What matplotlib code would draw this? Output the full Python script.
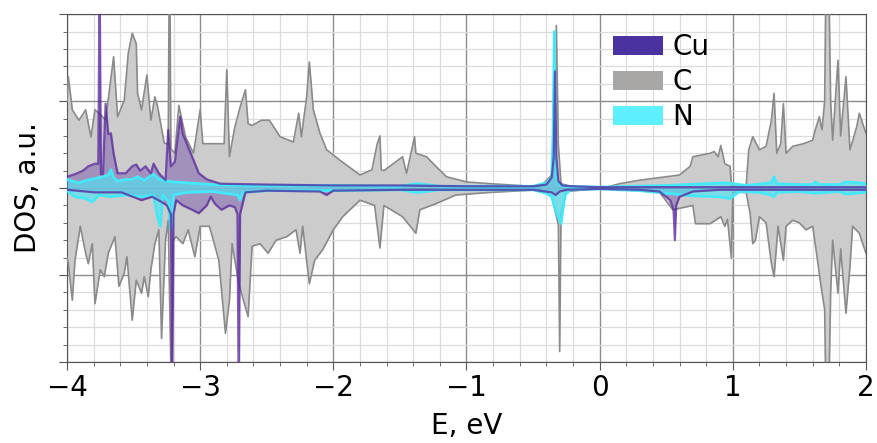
import matplotlib
matplotlib.use('Agg')
import matplotlib.pyplot as plt
from matplotlib.patches import Patch
from matplotlib.ticker import MultipleLocator

# C, spin up
e_c_up = [-4.00, -3.99, -3.96, -3.91, -3.86, -3.82, -3.79, -3.75, -3.71, -3.65,
          -3.62, -3.57, -3.54, -3.51, -3.48, -3.47, -3.44, -3.40, -3.37, -3.34,
          -3.32, -3.27, -3.24, -3.232, -3.228, -3.22, -3.19, -3.16, -3.11, -3.05,
          -3.00, -2.98, -2.82, -2.80, -2.78, -2.74, -2.70, -2.66, -2.64, -2.61,
          -2.54, -2.48, -2.40, -2.30, -2.26, -2.24, -2.20, -2.18, -2.15, -2.10,
          -2.05, -1.95, -1.80, -1.71, -1.67, -1.65, -1.64, -1.62, -1.48, -1.45,
          -1.39, -1.38, -1.30, -1.23, -1.15, -1.00, -0.82, -0.45, -0.41, -0.36,
          -0.34, -0.325, -0.31, -0.29, -0.20, 0.00, 0.05, 0.15, 0.30, 0.45,
          0.60, 0.68, 0.70, 0.83, 0.86, 0.89, 0.91, 0.94, 0.98, 0.99,
          1.10, 1.12, 1.15, 1.20, 1.25, 1.29, 1.31, 1.33, 1.36, 1.38,
          1.40, 1.45, 1.53, 1.60, 1.62, 1.65, 1.67, 1.69, 1.70, 1.72,
          1.735, 1.75, 1.79, 1.81, 1.85, 1.88, 1.93, 1.95, 2.00]
c_up = [1.00, 1.28, 0.90, 0.78, 0.90, 0.59, 0.90, 0.85, 0.78, 1.51,
        0.82, 1.01, 1.55, 1.78, 1.66, 1.09, 0.90, 1.30, 0.78, 1.05,
        0.94, 0.52, 0.50, 2.5, 2.5, 0.45, 0.40, 0.95, 0.59, 0.40,
        0.90, 0.51, 0.51, 1.36, 0.36, 0.70, 0.93, 1.13, 0.74, 0.72,
        0.78, 0.78, 0.59, 0.53, 0.86, 0.59, 1.05, 1.45, 0.90, 0.63,
        0.44, 0.32, 0.15, 0.21, 0.51, 0.60, 0.21, 0.20, 0.36, 0.17,
        0.59, 0.40, 0.36, 0.25, 0.13, 0.07, 0.05, 0.015, 0.07, 0.15,
        0.80, 1.87, 0.50, 0.05, 0.01, 0.00, 0.01, 0.05, 0.09, 0.12,
        0.15, 0.25, 0.36, 0.40, 0.42, 0.36, 0.49, 0.28, 0.25, 0.02,
        0.02, 0.44, 0.59, 0.44, 0.48, 0.78, 1.09, 0.40, 0.51, 0.97,
        0.40, 0.48, 0.51, 0.55, 0.67, 0.82, 0.67, 1.00, 2.5, 2.5,
        1.00, 0.55, 1.47, 0.60, 1.28, 0.44, 0.70, 0.86, 0.63]

# C, spin down
e_c_dn = [-4.00, -3.99, -3.96, -3.94, -3.90, -3.86, -3.84, -3.81, -3.79, -3.75,
          -3.72, -3.69, -3.64, -3.61, -3.57, -3.55, -3.51, -3.48, -3.44, -3.42,
          -3.39, -3.37, -3.34, -3.31, -3.29, -3.26, -3.24, -3.215, -3.205, -3.18,
          -3.13, -3.09, -3.04, -3.00, -2.93, -2.86, -2.81, -2.78, -2.76, -2.71,
          -2.64, -2.61, -2.55, -2.49, -2.43, -2.35, -2.28, -2.25, -2.23, -2.18,
          -2.14, -2.08, -2.00, -1.93, -1.80, -1.69, -1.65, -1.62, -1.48, -1.38,
          -1.35, -1.23, -1.08, -0.82, -0.45, -0.36, -0.31, -0.30, -0.29, -0.25,
          0.00, 0.30, 0.45, 0.55, 0.70, 0.72, 0.83, 0.91, 0.94, 0.96,
          0.99, 1.00, 1.10, 1.13, 1.15, 1.17, 1.20, 1.25, 1.29, 1.31,
          1.34, 1.38, 1.40, 1.45, 1.50, 1.55, 1.60, 1.64, 1.66, 1.69,
          1.70, 1.72, 1.735, 1.75, 1.79, 1.81, 1.85, 1.88, 1.90, 1.95,
          2.00]
c_dn = [-0.80, -0.87, -1.29, -0.83, -0.44, -0.75, -0.87, -0.64, -1.33, -0.94,
        -1.02, -0.75, -0.56, -1.13, -0.98, -0.79, -1.52, -1.06, -1.21, -1.02,
        -1.25, -0.94, -0.64, -0.48, -1.73, -0.60, -0.37, -2.5, -0.60, -0.56,
        -0.64, -0.48, -0.79, -0.44, -0.44, -0.83, -1.67, -1.29, -0.64, -1.10,
        -1.48, -0.67, -0.64, -0.75, -0.60, -0.56, -0.48, -0.75, -0.44, -1.10,
        -0.83, -0.71, -0.48, -0.33, -0.14, -0.20, -0.69, -0.20, -0.33, -0.52,
        -0.25, -0.18, -0.08, -0.05, -0.02, -0.10, -0.42, -1.88, -0.30, -0.04,
        -0.005, -0.03, -0.05, -0.25, -0.20, -0.41, -0.41, -0.33, -0.44, -0.36,
        -0.81, -0.05, -0.05, -0.29, -0.64, -0.60, -0.33, -0.40, -0.87, -1.02,
        -0.44, -0.83, -0.44, -0.37, -0.40, -0.48, -0.44, -0.87, -1.10, -1.40,
        -2.5, -2.5, -1.20, -0.60, -1.21, -0.70, -1.44, -0.90, -0.44, -0.52,
        -0.75]

# Cu, spin up
e_cu_up = [-4.00, -3.94, -3.88, -3.84, -3.79, -3.765, -3.755, -3.745, -3.73, -3.71,
           -3.69, -3.67, -3.65, -3.62, -3.56, -3.51, -3.48, -3.45, -3.41, -3.37,
           -3.35, -3.31, -3.26, -3.24, -3.22, -3.19, -3.15, -3.13, -3.10, -3.06,
           -3.01, -2.95, -2.85, -2.50, -2.00, -1.50, -1.00, -0.50, -0.40, -0.36,
           -0.345, -0.335, -0.325, -0.31, -0.28, -0.20, 0.00, 0.50, 1.00, 1.50,
           2.00]
cu_up = [0.13, 0.16, 0.20, 0.25, 0.28, 0.28, 2.5, 0.16, 0.16, 0.97,
         0.62, 0.63, 0.40, 0.17, 0.17, 0.25, 0.27, 0.20, 0.25, 0.17,
         0.28, 0.17, 0.09, 0.67, 0.25, 0.30, 0.82, 0.62, 0.51, 0.36,
         0.17, 0.10, 0.05, 0.04, 0.03, 0.03, 0.02, 0.02, 0.04, 0.12,
         0.35, 1.34, 0.35, 0.08, 0.03, 0.02, 0.01, 0.01, 0.01, 0.01,
         0.01]

# Cu, spin down
e_cu_dn = [-4.00, -3.79, -3.59, -3.44, -3.36, -3.29, -3.25, -3.22, -3.21, -3.20,
           -3.18, -3.13, -3.06, -3.01, -2.95, -2.92, -2.89, -2.84, -2.78, -2.74,
           -2.72, -2.71, -2.70, -2.66, -2.50, -2.10, -2.05, -2.00, -1.50, -1.00,
           -0.50, -0.36, -0.33, -0.30, -0.25, 0.00, 0.30, 0.45, 0.53, 0.555,
           0.565, 0.575, 0.60, 0.70, 0.90, 1.00, 1.50, 2.00]
cu_dn = [-0.02, -0.05, -0.05, -0.14, -0.10, -0.16, -0.20, -0.30, -2.5, -0.30,
         -0.14, -0.20, -0.25, -0.29, -0.20, -0.10, -0.18, -0.25, -0.20, -0.22,
         -0.30, -2.5, -0.30, -0.05, -0.03, -0.04, -0.08, -0.03, -0.02, -0.02,
         -0.02, -0.05, -0.08, -0.04, -0.02, -0.01, -0.02, -0.04, -0.14, -0.25,
         -0.60, -0.20, -0.10, -0.04, -0.02, -0.02, -0.02, -0.02]

# N, spin up
e_n_up = [-4.00, -3.96, -3.91, -3.85, -3.79, -3.73, -3.69, -3.67, -3.65, -3.62,
          -3.55, -3.51, -3.47, -3.42, -3.38, -3.35, -3.31, -3.25, -3.20, -3.10,
          -3.00, -2.90, -2.70, -2.50, -2.00, -1.50, -1.38, -1.30, -1.20, -0.50,
          -0.40, -0.36, -0.35, -0.34, -0.33, -0.32, -0.30, -0.25, 0.00, 0.50,
          0.80, 0.95, 1.00, 1.10, 1.29, 1.31, 1.33, 1.50, 1.60, 1.62,
          1.65, 1.80, 1.85, 1.95, 2.00]
n_up = [0.10, 0.08, 0.06, 0.09, 0.11, 0.13, 0.15, 0.21, 0.12, 0.08,
        0.10, 0.10, 0.13, 0.09, 0.13, 0.16, 0.10, 0.08, 0.07, 0.06,
        0.05, 0.04, 0.03, 0.03, 0.03, 0.02, 0.05, 0.04, 0.02, 0.02,
        0.06, 0.12, 0.60, 1.80, 0.40, 0.10, 0.04, 0.02, 0.01, 0.03,
        0.05, 0.06, 0.05, 0.03, 0.06, 0.13, 0.05, 0.04, 0.04, 0.07,
        0.04, 0.04, 0.07, 0.06, 0.05]

# N, spin down
e_n_dn = [-4.00, -3.94, -3.86, -3.81, -3.76, -3.67, -3.55, -3.44, -3.35, -3.32,
          -3.30, -3.28, -3.24, -3.22, -3.20, -3.10, -2.90, -2.72, -2.70, -2.68,
          -2.50, -2.00, -1.50, -1.38, -1.30, -1.20, -0.50, -0.40, -0.36, -0.32,
          -0.29, -0.26, -0.22, 0.00, 0.30, 0.50, 0.70, 0.90, 0.98, 1.05,
          1.20, 1.29, 1.31, 1.33, 1.50, 1.62, 1.80, 1.85, 2.00]
n_dn = [-0.03, -0.10, -0.12, -0.16, -0.08, -0.10, -0.08, -0.10, -0.08, -0.33,
        -0.44, -0.08, -0.15, -0.48, -0.08, -0.05, -0.04, -0.08, -0.14, -0.05,
        -0.03, -0.03, -0.02, -0.05, -0.04, -0.02, -0.02, -0.06, -0.10, -0.30,
        -0.41, -0.08, -0.02, -0.01, -0.03, -0.06, -0.09, -0.10, -0.12, -0.04,
        -0.05, -0.08, -0.10, -0.05, -0.04, -0.06, -0.04, -0.07, -0.05]

labels = ['Cu', 'C', 'N']
c_fill, c_line = '#cccccc', '#8a8a8a'
cu_col = '#55259c'
n_col = '#45e8f8'

fig = plt.figure(figsize=(8.77, 4.43), dpi=100)
ax = fig.add_axes([0.0764, 0.183, 0.911, 0.785])

# C
for e, v in [(e_c_up, c_up), (e_c_dn, c_dn)]:
    ax.fill_between(e, 0, v, color=c_fill, lw=0, zorder=2)
    ax.plot(e, v, color=c_line, lw=1.2, zorder=3)

# Cu
for e, v in [(e_cu_up, cu_up), (e_cu_dn, cu_dn)]:
    ax.fill_between(e, 0, v, color=cu_col, alpha=0.35, lw=0, zorder=4)

# N
for e, v in [(e_n_up, n_up), (e_n_dn, n_dn)]:
    ax.fill_between(e, 0, v, color=n_col, alpha=0.6, lw=0, zorder=5)
    ax.plot(e, v, color=n_col, lw=2.0, zorder=6)

for e, v in [(e_cu_up, cu_up), (e_cu_dn, cu_dn)]:
    ax.plot(e, v, color=cu_col, lw=1.6, alpha=0.75, zorder=7)

ax.set_xlim(-4, 2)
ax.set_ylim(-2, 2)
ax.xaxis.set_major_locator(MultipleLocator(1))
ax.xaxis.set_minor_locator(MultipleLocator(0.2))
ax.yaxis.set_major_locator(MultipleLocator(1))
ax.yaxis.set_minor_locator(MultipleLocator(0.2))
ax.set_yticklabels([])
ax.grid(which='major', color='#8c8c8c', lw=1.0, zorder=0)
ax.grid(which='minor', color='#dcdcdc', lw=0.9, zorder=0)
ax.set_axisbelow(True)
ax.tick_params(axis='both', which='major', labelsize=20, length=6, color='#555555', pad=3)
ax.tick_params(axis='both', which='minor', length=3, color='#555555')
for s in ax.spines.values():
    s.set_color('#555555')

ax.set_xlabel('E, eV', fontsize=20, labelpad=7)
ax.set_ylabel('DOS, a.u.', fontsize=20, labelpad=9)

handles = [Patch(facecolor='#4a33a0'), Patch(facecolor='#a9a6a6'), Patch(facecolor='#5ff0ff')]
ax.legend(handles, labels, loc='upper left', bbox_to_anchor=(0.683, 0.945),
          frameon=False, fontsize=20, handlelength=1.8, handleheight=0.65,
          labelspacing=0.25, handletextpad=0.35, borderpad=0, borderaxespad=0)

plt.savefig('out.png', dpi=100)
